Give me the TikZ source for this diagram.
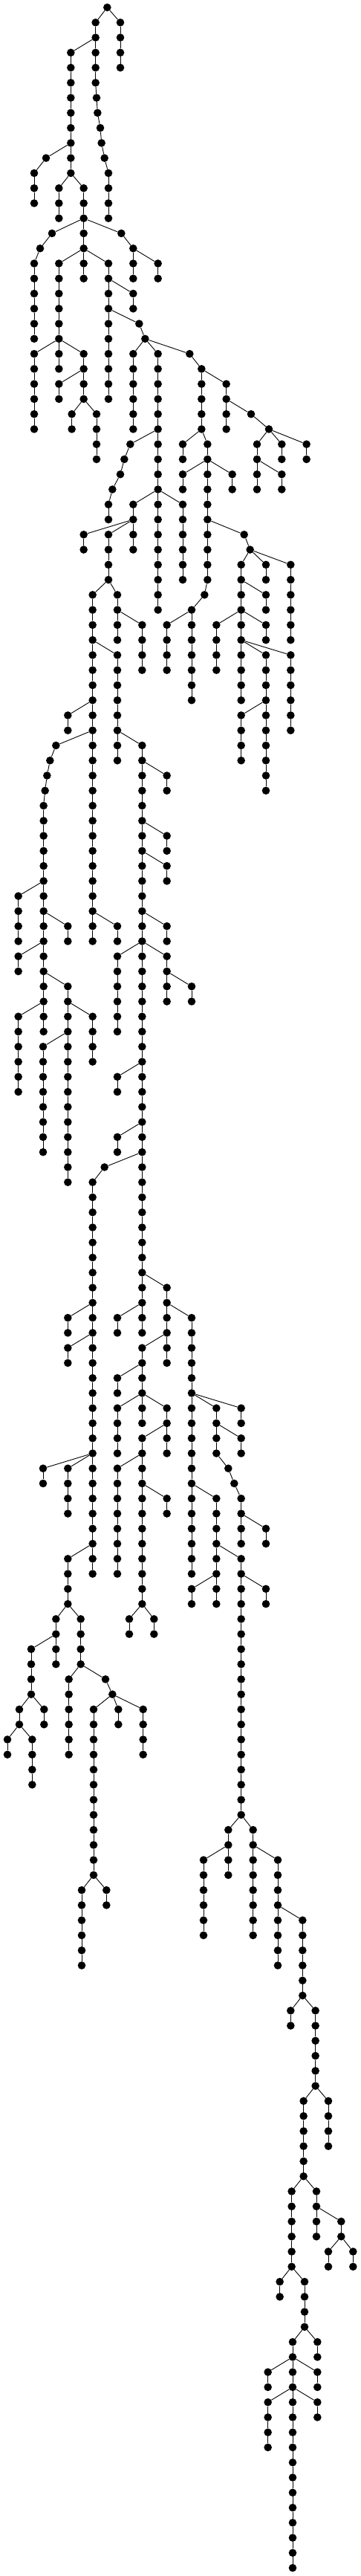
\documentclass[tikz,border=0pt]{standalone}
\tikzset{dot/.style={circle,fill=black,inner sep=0pt,minimum size=10.6pt},
  edge/.style={line width=0.9pt,black}}
\newcommand\TN[3]{\node[dot] (n#1x#2) at (#2,#1) {};\pgfmathtruncatemacro\pl{#1-1}\draw[edge] (n\pl x#3) -- (n#1x#2);}
\newcommand\TB[4]{\TN{#1}{#2}{#3}\ifnum#4>#1\relax\pgfmathtruncatemacro\ls{#1+1}\foreach \lv in {\ls,...,#4}{\TN{\lv}{#2}{#2}}\fi}
\begin{document}
\begin{tikzpicture}[x=0.33333pt,y=-20.265pt]
\useasboundingbox (0,-0.4935) rectangle (1458,170.54);
\node[dot] (n0x433) at (433,0) {};
\TB{1}{386}{433}{5}
\TB{1}{486}{433}{4}
\TB{3}{286}{386}{11}
\TN{6}{390}{386}\TN{7}{394}{390}\TN{8}{405}{394}\TN{9}{410}{405}\TN{10}{422}{410}
\TB{11}{438}{422}{14}
\TB{10}{186}{286}{10}
\TB{11}{138}{186}{13}
\TB{12}{238}{286}{14}
\TB{12}{338}{286}{14}
\TB{15}{210}{338}{15}
\TB{16}{162}{210}{16}
\TB{17}{138}{162}{22}
\TB{15}{338}{338}{18}
\TB{15}{490}{338}{15}
\TB{16}{538}{490}{18}
\TB{17}{638}{538}{18}
\TB{17}{238}{338}{24}
\TB{23}{138}{238}{28}
\TB{23}{338}{238}{26}
\TB{25}{238}{338}{26}
\TB{27}{290}{338}{28}
\TB{27}{390}{338}{30}
\TB{17}{438}{338}{26}
\TB{19}{538}{438}{20}
\TB{21}{562}{438}{21}
\TB{22}{586}{562}{22}
\TB{23}{538}{586}{28}
\TB{23}{638}{586}{40}
\TB{23}{766}{586}{23}
\TB{24}{814}{766}{28}
\TB{25}{914}{814}{28}
\TB{27}{1014}{914}{27}
\TB{28}{1086}{1014}{28}
\TB{29}{526}{638}{29}
\TN{30}{502}{526}\TN{31}{486}{502}\TN{32}{454}{486}
\TB{33}{438}{454}{34}
\TB{29}{738}{814}{30}
\TB{29}{838}{814}{38}
\TB{29}{1038}{1086}{32}
\TB{29}{1138}{1086}{30}
\TB{29}{1238}{1086}{30}
\TB{31}{1138}{1038}{32}
\TB{31}{738}{838}{32}
\TB{31}{938}{838}{32}
\TB{33}{538}{638}{36}
\TB{33}{738}{638}{38}
\TB{35}{338}{538}{36}
\TB{35}{438}{538}{38}
\TB{35}{986}{838}{35}
\TB{36}{1010}{986}{36}
\TB{37}{974}{1010}{42}
\TB{37}{1074}{1010}{38}
\TB{37}{1174}{1010}{42}
\TB{39}{1074}{974}{40}
\TB{41}{1074}{974}{42}
\TB{41}{874}{974}{44}
\TB{39}{374}{438}{62}
\TB{39}{474}{438}{42}
\TB{41}{574}{474}{44}
\TB{39}{826}{838}{39}
\TB{40}{774}{826}{46}
\TB{41}{674}{774}{44}
\TB{43}{474}{374}{50}
\TB{43}{974}{974}{46}
\TB{43}{1074}{974}{52}
\TB{43}{1174}{974}{48}
\TB{47}{974}{1074}{50}
\TB{47}{274}{374}{48}
\TN{49}{226}{374}\TN{50}{202}{226}\TN{51}{190}{202}\TN{52}{182}{190}
\TB{53}{176}{182}{68}
\TB{49}{574}{474}{88}
\TB{51}{674}{574}{52}
\TB{55}{674}{574}{56}
\TB{57}{674}{574}{58}
\TB{59}{74}{176}{62}
\TB{61}{274}{176}{62}
\TB{63}{74}{176}{64}
\TB{65}{274}{176}{78}
\TB{67}{74}{176}{72}
\TB{61}{474}{374}{62}
\TB{61}{674}{574}{62}
\TB{63}{474}{574}{68}
\TB{63}{674}{574}{66}
\TB{65}{774}{674}{66}
\TB{67}{374}{274}{70}
\TB{69}{174}{274}{76}
\TB{71}{474}{574}{72}
\TB{75}{474}{574}{76}
\TB{77}{422}{574}{77}
\TB{78}{374}{422}{104}
\TB{85}{674}{574}{90}
\TB{87}{274}{374}{88}
\TB{89}{274}{374}{90}
\TB{87}{474}{574}{88}
\TB{87}{774}{674}{104}
\TB{89}{574}{674}{94}
\TB{91}{474}{574}{92}
\TB{93}{474}{574}{96}
\TB{93}{674}{574}{96}
\TB{95}{574}{674}{106}
\TB{97}{474}{574}{104}
\TB{99}{674}{574}{100}
\TB{97}{174}{374}{98}
\TB{97}{274}{374}{100}
\TB{93}{874}{774}{96}
\TB{93}{974}{774}{94}
\TB{95}{974}{874}{96}
\TN{97}{922}{874}\TN{98}{946}{922}
\TB{99}{974}{946}{102}
\TB{101}{1074}{974}{102}
\TB{99}{874}{774}{106}
\TB{103}{974}{874}{120}
\TB{105}{774}{874}{106}
\TB{105}{1074}{974}{106}
\TB{103}{274}{374}{106}
\TB{107}{226}{274}{110}
\TB{107}{326}{274}{110}
\TB{107}{522}{574}{108}
\TB{107}{622}{574}{108}
\TB{109}{126}{226}{112}
\TB{113}{78}{126}{114}
\TB{113}{178}{126}{114}
\TB{115}{30}{78}{116}
\TB{115}{130}{78}{118}
\TB{111}{278}{326}{116}
\TN{111}{426}{326}\TN{112}{454}{426}
\TB{113}{378}{454}{124}
\TB{113}{478}{454}{114}
\TB{113}{578}{454}{116}
\TB{125}{330}{378}{130}
\TB{125}{430}{378}{126}
\TB{121}{922}{974}{124}
\TB{121}{1022}{974}{128}
\TB{123}{822}{922}{128}
\TB{123}{1122}{1022}{130}
\TB{127}{1222}{1122}{132}
\TB{133}{1174}{1222}{134}
\TB{133}{1274}{1222}{138}
\TB{139}{1226}{1274}{144}
\TB{139}{1326}{1274}{142}
\TB{145}{1178}{1226}{150}
\TB{145}{1278}{1226}{148}
\TB{147}{1378}{1278}{148}
\TB{149}{1326}{1378}{150}
\TB{149}{1426}{1378}{150}
\TB{151}{1130}{1178}{152}
\TB{151}{1230}{1178}{154}
\TB{155}{1182}{1230}{170}
\TB{155}{1282}{1230}{156}
\TB{157}{1082}{1182}{158}
\TB{157}{1282}{1182}{158}
\TB{159}{1082}{1182}{162}
\TB{159}{1282}{1182}{160}
\end{tikzpicture}
\end{document}
